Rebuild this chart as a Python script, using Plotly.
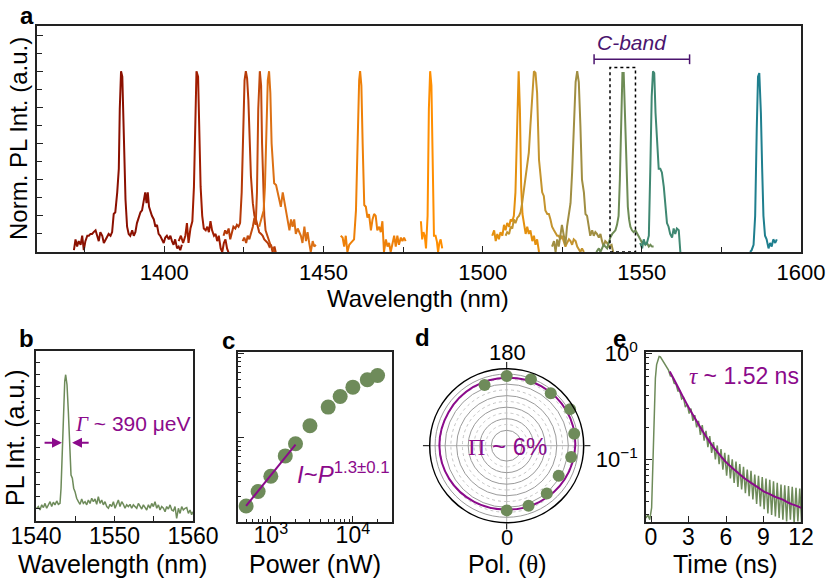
import plotly.graph_objects as go
import numpy as np

W, H = 833, 586
def px(x): return x / W
def py(y): return 1 - y / H

FONT = "Liberation Sans, Arial, Helvetica, sans-serif"
SERIF = "Liberation Serif, Times New Roman, serif"
GREEN = "#6E8B5A"
PURPLE = "#8B0A8B"
CBAND_COLOR = "#4B146E"
AXC = "#222222"

# ---------------- Panel a: normalized PL spectra (wavelength nm, normalized intensity)
S1 = [(1371.6,0.01),(1372.1,0.07),(1372.6,0.03),(1373.1,0.06),(1373.7,0.04),(1374.2,0.09),(1374.7,0.01),(1375.2,0.06),(1375.8,0.09),(1376.3,0.09),(1376.8,0.10),(1377.3,0.10),(1377.8,0.11),(1378.4,0.12),(1378.9,0.09),(1379.4,0.06),(1379.9,0.11),(1380.5,0.09),(1381.0,0.05),(1381.5,0.07),(1382.0,0.09),(1382.5,0.10),(1383.1,0.09),(1383.6,0.11),(1384.1,0.21),(1384.6,0.22),(1385.2,0.33),(1385.7,0.46),(1386.0,0.79),(1386.4,1.00),(1386.8,0.97),(1387.3,0.64),(1387.8,0.29),(1388.3,0.14),(1388.8,0.10),(1389.3,0.09),(1389.9,0.12),(1390.4,0.09),(1390.9,0.11),(1391.4,0.16),(1392.0,0.19),(1392.5,0.22),(1393.0,0.23),(1393.5,0.28),(1394.0,0.33),(1394.4,0.27),(1394.8,0.33),(1395.2,0.25),(1395.6,0.22),(1396.1,0.20),(1396.7,0.18),(1397.2,0.14),(1397.7,0.15),(1398.2,0.10),(1398.7,0.09),(1399.3,0.07),(1399.8,0.05),(1400.3,0.08),(1400.8,0.09),(1401.4,0.07),(1401.9,0.09),(1402.4,0.06),(1402.9,0.04),(1403.4,0.07),(1404.0,0.02),(1404.5,0.03),(1405.0,0.01),(1405.5,0.04)]
S2 = [(1404.5,0.06),(1405.2,0.09),(1405.9,0.05),(1406.6,0.09),(1407.1,0.16),(1407.6,0.05),(1408.2,0.13),(1408.8,0.17),(1409.3,0.36),(1409.7,0.73),(1410.1,1.00),(1410.6,0.97),(1411.0,0.70),(1411.4,0.36),(1411.9,0.20),(1412.4,0.13),(1413.0,0.12),(1413.5,0.14),(1414.0,0.11),(1414.5,0.17),(1415.0,0.12),(1415.6,0.09),(1416.1,0.10),(1416.6,0.06),(1417.1,0.09),(1417.7,0.02),(1418.2,0.00),(1418.7,0.05),(1419.2,0.07),(1419.7,0.02),(1420.3,-0.01)]
S3 = [(1418.6,0.09),(1419.1,0.12),(1419.6,0.10),(1420.2,0.13),(1420.7,0.07),(1421.2,0.10),(1421.7,0.14),(1422.3,0.13),(1422.8,0.15),(1423.3,0.14),(1423.8,0.16),(1424.3,0.33),(1424.8,0.70),(1425.2,0.95),(1425.6,1.00),(1426.0,0.96),(1426.4,0.84),(1427.2,0.42),(1427.8,0.27),(1428.3,0.20),(1428.8,0.18),(1429.3,0.14),(1429.8,0.11),(1430.4,0.10),(1430.9,0.09),(1431.4,0.07),(1431.9,0.06),(1432.5,0.05),(1433.0,0.03),(1433.5,0.04),(1434.0,0.00),(1434.6,0.03),(1435.1,-0.01)]
S4 = [(1424.6,0.06),(1425.1,0.08),(1425.7,0.05),(1426.2,0.09),(1426.7,0.07),(1427.2,0.10),(1427.8,0.14),(1428.3,0.19),(1428.7,0.15),(1429.1,0.33),(1429.5,0.79),(1430.0,1.00),(1430.4,0.92),(1430.7,0.60),(1431.0,0.36),(1431.4,0.20),(1431.8,0.12),(1432.3,0.09),(1432.7,0.07),(1433.1,0.05),(1433.5,0.03),(1434.0,0.02),(1434.6,0.00),(1435.1,-0.01)]
S5 = [(1429.8,0.14),(1430.6,0.20),(1431.2,0.23),(1431.6,0.36),(1432.0,0.70),(1432.5,0.95),(1432.9,1.00),(1433.3,0.88),(1433.7,0.60),(1434.1,0.46),(1434.5,0.38),(1435.1,0.37),(1435.6,0.33),(1436.1,0.30),(1436.6,0.25),(1437.2,0.33),(1437.7,0.28),(1438.2,0.23),(1438.7,0.20),(1439.3,0.12),(1439.8,0.18),(1440.3,0.14),(1440.8,0.18),(1441.3,0.10),(1441.9,0.13),(1442.4,0.11),(1442.9,0.09),(1443.4,0.05),(1444.0,0.14),(1444.5,0.06),(1445.0,0.11),(1445.5,0.05),(1446.0,0.00),(1446.6,0.06),(1447.1,0.03),(1447.6,0.04)]
S6 = [(1455.4,0.09),(1456.0,0.08),(1456.5,0.03),(1457.0,0.09),(1457.5,0.00),(1458.1,0.04),(1458.6,0.05),(1459.1,0.06),(1459.6,0.07),(1460.2,0.23),(1460.7,0.60),(1461.2,0.95),(1461.5,1.00),(1461.9,0.92),(1462.3,0.60),(1462.8,0.26),(1463.3,0.25),(1463.8,0.19),(1464.3,0.21),(1464.9,0.12),(1465.4,0.18),(1465.9,0.21),(1466.4,0.20),(1466.9,0.12),(1467.5,0.14),(1468.0,0.11),(1468.5,0.17),(1469.0,0.00),(1469.6,0.07),(1470.1,0.03),(1470.6,0.05),(1471.1,0.00),(1471.6,0.04),(1472.2,0.09),(1472.7,0.03),(1473.2,0.09),(1473.7,0.04),(1474.3,0.08),(1474.8,0.06),(1475.3,0.08),(1475.8,0.06)]
S7 = [(1480.6,0.17),(1481.0,0.07),(1481.4,0.11),(1481.8,0.09),(1482.2,0.02),(1482.7,0.20),(1483.1,0.79),(1483.5,1.00),(1483.9,0.92),(1484.3,0.51),(1484.7,0.09),(1485.2,0.09),(1485.6,0.06),(1486.0,0.00),(1486.4,0.05),(1486.8,0.07),(1487.3,0.02)]
S8 = [(1503.0,0.09),(1503.6,0.12),(1504.1,0.06),(1504.6,0.10),(1505.1,0.07),(1505.6,0.11),(1506.2,0.09),(1506.7,0.15),(1507.2,0.12),(1507.7,0.16),(1508.3,0.14),(1508.8,0.18),(1509.3,0.17),(1509.8,0.20),(1510.3,0.33),(1510.8,0.70),(1511.3,1.00),(1511.7,0.79),(1512.1,0.36),(1512.5,0.21),(1513.0,0.16),(1513.5,0.10),(1514.0,0.14),(1514.5,0.10),(1515.0,0.12),(1515.6,0.06),(1516.1,0.09),(1516.6,0.04),(1517.1,0.07),(1517.7,0.00)]
S9 = [(1507.2,0.09),(1507.7,0.11),(1508.3,0.10),(1508.8,0.14),(1509.3,0.13),(1509.8,0.18),(1510.3,0.16),(1510.9,0.19),(1511.4,0.20),(1511.9,0.22),(1512.4,0.27),(1512.9,0.33),(1513.5,0.42),(1514.0,0.47),(1514.5,0.55),(1515.0,0.70),(1515.6,0.88),(1516.1,1.00),(1516.6,0.99),(1517.1,0.88),(1517.7,0.51),(1518.2,0.42),(1518.7,0.33),(1519.2,0.31),(1519.7,0.23),(1520.3,0.21),(1520.8,0.21),(1521.3,0.18),(1521.8,0.14),(1522.4,0.12),(1522.9,0.10),(1523.4,0.09),(1523.9,0.09),(1524.4,0.07),(1524.9,0.09),(1525.5,0.06),(1526.0,0.03),(1526.5,0.05),(1527.1,0.07),(1527.6,0.06),(1528.1,0.04),(1528.6,0.07),(1529.2,0.06),(1529.7,0.03),(1530.2,0.01),(1530.7,0.00),(1531.2,0.02),(1531.8,0.00)]
S10 = [(1521.8,0.03),(1522.4,0.06),(1522.9,0.00),(1523.4,0.07),(1523.9,0.03),(1524.4,0.10),(1524.9,0.15),(1525.5,0.09),(1526.0,0.04),(1526.5,0.14),(1527.1,0.20),(1527.6,0.27),(1528.1,0.44),(1528.6,0.70),(1529.2,0.94),(1529.7,1.00),(1530.2,0.94),(1530.7,0.70),(1531.2,0.40),(1531.8,0.33),(1532.3,0.21),(1532.8,0.20),(1533.3,0.14),(1533.8,0.09),(1534.4,0.12),(1534.9,0.09),(1535.4,0.11),(1535.9,0.10),(1536.5,0.08),(1537.0,0.10),(1537.5,0.06),(1538.0,0.03),(1538.5,0.06),(1539.1,0.05),(1539.6,0.03),(1540.5,0.04),(1541.0,0.00)]
S11 = [(1535.7,0.00),(1536.5,0.02),(1537.0,0.00),(1538.0,0.04),(1539.1,0.02),(1540.1,0.08),(1540.7,0.10),(1541.2,0.11),(1541.7,0.12),(1542.2,0.15),(1542.7,0.20),(1543.1,0.40),(1543.5,0.77),(1543.9,0.99),(1544.3,0.99),(1544.7,0.77),(1545.2,0.40),(1545.6,0.25),(1546.0,0.18),(1546.4,0.14),(1546.9,0.12),(1547.4,0.11),(1548.0,0.12),(1548.5,0.10),(1549.0,0.09),(1549.5,0.07),(1550.1,0.05),(1550.6,0.06),(1551.1,0.04),(1551.6,0.05),(1552.2,0.03),(1552.7,0.04),(1553.2,0.03),(1553.7,0.03)]
S12 = [(1549.5,0.05),(1550.1,0.02),(1550.6,0.07),(1551.1,0.04),(1551.6,0.05),(1552.2,0.09),(1552.7,0.49),(1553.1,0.86),(1553.5,1.00),(1553.9,0.99),(1554.3,0.77),(1554.8,0.58),(1555.3,0.46),(1555.8,0.46),(1556.3,0.44),(1556.9,0.36),(1557.4,0.27),(1557.9,0.16),(1558.4,0.14),(1558.9,0.10),(1559.5,0.08),(1560.0,0.13),(1560.5,0.10),(1561.0,0.13),(1561.6,0.12),(1562.1,0.00)]
S13 = [(1584.0,0.00),(1584.5,0.01),(1585.1,0.04),(1585.6,0.20),(1586.1,0.68),(1586.5,0.97),(1586.9,0.99),(1587.4,0.77),(1587.8,0.46),(1588.2,0.20),(1588.7,0.09),(1589.2,0.07),(1589.8,0.02),(1590.3,0.05),(1590.8,0.03),(1591.3,0.07),(1591.9,0.05),(1592.4,0.07)]
SPEC_COLORS = ["#8B1000", "#A01C00", "#B63A08", "#C24A0C", "#DC7014", "#EE8008", "#FF8E00",
               "#E4900E", "#C4942E", "#A08E42", "#6E8C55", "#3F8872", "#1F7F8E"]
CBAND = (1535, 1565)
CBAND_Y = 1.066
BOX_X = (1540, 1548)
BOX_TOP = 1.02

# ---------------- Panel b: single PL spectrum
B_SPEC = [(1540.09,0.52),(1540.30,0.59),(1540.51,0.45),(1540.73,0.66),(1540.94,0.55),(1541.15,0.72),(1541.36,0.52),(1541.58,0.68),(1541.79,0.79),(1542.00,0.59),(1542.21,0.77),(1542.42,0.66),(1542.64,0.82),(1542.85,0.68),(1543.06,0.72),(1543.19,1.34),(1543.36,3.11),(1543.49,4.48),(1543.66,5.71),(1543.78,5.98),(1543.95,5.57),(1544.12,4.48),(1544.29,3.11),(1544.46,1.88),(1544.63,1.75),(1544.80,1.34),(1544.97,1.20),(1545.18,0.93),(1545.40,0.79),(1545.61,0.68),(1545.82,0.90),(1546.03,0.72),(1546.25,0.79),(1546.46,0.66),(1546.67,0.86),(1546.88,0.72),(1547.10,0.93),(1547.31,0.79),(1547.52,0.90),(1547.73,0.68),(1547.94,0.99),(1548.16,0.72),(1548.37,0.86),(1548.58,0.66),(1548.79,0.79),(1549.01,0.59),(1549.22,0.52),(1549.43,0.68),(1549.64,0.59),(1549.86,0.79),(1550.07,0.52),(1550.28,0.66),(1550.49,0.86),(1550.70,0.59),(1550.92,0.79),(1551.13,0.68),(1551.34,0.52),(1551.55,0.66),(1551.77,0.59),(1551.98,0.68),(1552.19,0.52),(1552.40,0.66),(1552.62,0.59),(1552.83,0.52),(1553.04,0.72),(1553.25,0.59),(1553.47,0.49),(1553.68,0.66),(1553.89,0.55),(1554.10,0.45),(1554.32,0.66),(1554.53,0.52),(1554.74,0.72),(1554.95,0.59),(1555.16,0.79),(1555.38,0.52),(1555.59,0.66),(1555.80,0.45),(1556.01,0.59),(1556.23,0.52),(1556.44,0.38),(1556.65,0.59),(1556.86,0.49),(1557.08,0.66),(1557.29,0.45),(1557.50,0.41),(1557.71,0.59),(1557.92,0.11),(1558.14,0.52),(1558.35,0.31),(1558.56,0.59),(1558.77,0.45),(1558.99,0.52),(1559.20,0.55),(1559.41,0.31),(1559.62,0.45),(1559.83,0.25),(1559.96,0.38)]
FWHM_LEFT = (1540.9, 1543.3)
FWHM_RIGHT = (1546.9, 1544.6)
FWHM_Y = 3.2

# ---------------- Panel c: power dependence
POWER = [500, 700, 1000, 1500, 2000, 3000, 5000, 7000, 10000, 15000, 20000]
PL_POWER = [1.55, 2.3, 3.5, 6.1, 8.5, 13.9, 23.2, 31, 40, 49, 55]
FIT_POWER = [500, 2000]
FIT_PL = [1.55, 8.3]

# ---------------- Panel d: polarization
POL_ANGLE = [0, 20, 40, 60, 80, 100, 120, 140, 160, 180, 200]
POL_INT = [0.84, 0.83, 0.81, 0.78, 0.85, 0.89, 0.95, 0.89, 0.92, 0.905, 0.84]
POL_FIT_ANGLE = [0, 30, 60, 90, 120, 150, 180, 210, 240, 270, 300, 330, 360]
POL_FIT_R = [0.83, 0.845, 0.87, 0.89, 0.90, 0.895, 0.883, 0.877, 0.872, 0.874, 0.862, 0.843, 0.83]
POL_GRID_SOLID = [0.2, 0.35, 0.5, 0.65, 0.8, 0.93]
POL_GRID_DOT = [0.275, 0.425, 0.575, 0.725, 0.865]
POL_TICK_LABELS = [("180", 352), ("0", 537)]

# ---------------- Panel e: time-resolved PL
E_DATA = [(-0.40,0.028),(-0.25,0.030),(-0.10,0.027),(0.05,0.035),(0.15,0.09),(0.25,0.30),(0.35,0.58),(0.45,0.78),(0.55,0.88),(0.65,0.93),(0.75,0.92),(0.85,0.88),(0.95,0.84),
          (1.10,0.79),(1.25,0.72),(1.40,0.69),(1.55,0.61),(1.70,0.60),(1.85,0.52),(2.00,0.51),(2.15,0.44),(2.30,0.44),(2.45,0.37),(2.60,0.38),(2.75,0.31),(2.90,0.33),(3.05,0.27),(3.20,0.30),(3.35,0.23),(3.50,0.26),(3.65,0.20),(3.80,0.23),(3.95,0.17),(4.10,0.21),(4.25,0.15),(4.40,0.185),(4.55,0.13),(4.70,0.165),(4.85,0.115),(5.00,0.145),(5.15,0.10),(5.30,0.135),(5.45,0.09),(5.60,0.125),(5.75,0.08),(5.90,0.115),(6.05,0.07),(6.20,0.11),(6.35,0.066),(6.50,0.10),(6.65,0.06),(6.80,0.095),(6.95,0.055),(7.10,0.09),(7.25,0.052),(7.40,0.085),(7.55,0.048),(7.70,0.08),(7.85,0.045),(8.00,0.078),(8.15,0.042),(8.30,0.072),(8.45,0.038),(8.60,0.07),(8.75,0.036),(8.90,0.068),(9.05,0.034),(9.20,0.066),(9.35,0.031),(9.50,0.064),(9.65,0.030),(9.80,0.062),(9.95,0.029),(10.10,0.060),(10.25,0.028),(10.40,0.058),(10.55,0.027),(10.70,0.057),(10.85,0.026),(11.00,0.056),(11.15,0.027),(11.30,0.055),(11.45,0.025),(11.60,0.054),(11.75,0.026),(11.90,0.053),(12.05,0.025)]
E_FIT = [(1.5,0.67),(2.0,0.52),(2.5,0.40),(3.0,0.31),(3.5,0.245),(4.0,0.195),(4.5,0.158),(5.0,0.130),(5.5,0.110),(6.0,0.094),(6.5,0.083),(7.0,0.074),(7.5,0.066),(8.0,0.060),(8.5,0.055),(9.0,0.050),(9.5,0.047),(10.0,0.044),(10.5,0.042),(11.0,0.039),(11.5,0.037),(12.0,0.035)]

fig = go.Figure()

# Panel a traces
for s, c in zip([S1, S2, S3, S4, S5, S6, S7, S8, S9, S10, S11, S12, S13], SPEC_COLORS):
    x, y = zip(*s)
    fig.add_trace(go.Scatter(x=x, y=y, mode="lines", line=dict(color=c, width=2),
                             xaxis="x", yaxis="y", showlegend=False, hoverinfo="skip"))
fig.add_trace(go.Scatter(x=list(CBAND), y=[CBAND_Y, CBAND_Y], mode="lines+markers",
                         line=dict(color=CBAND_COLOR, width=1.5),
                         marker=dict(symbol="line-ns", size=7, line=dict(color=CBAND_COLOR, width=1.5)),
                         xaxis="x", yaxis="y", showlegend=False, hoverinfo="skip"))

# Panel b
bx, by = zip(*B_SPEC)
fig.add_trace(go.Scatter(x=bx, y=by, mode="lines", line=dict(color=GREEN, width=1.5),
                         xaxis="x2", yaxis="y2", showlegend=False))

# Panel c
fig.add_trace(go.Scatter(x=POWER, y=PL_POWER, mode="markers", marker=dict(color=GREEN, size=15),
                         xaxis="x3", yaxis="y3", showlegend=False))
fig.add_trace(go.Scatter(x=FIT_POWER, y=FIT_PL, mode="lines", line=dict(color=PURPLE, width=2),
                         xaxis="x3", yaxis="y3", showlegend=False))

# Panel d
circ = np.linspace(0, 360, 181)
for r in POL_GRID_DOT:
    fig.add_trace(go.Scatterpolar(r=[r] * len(circ), theta=circ, mode="lines",
                                  line=dict(color="#c4c4c4", width=1, dash="dot"),
                                  subplot="polar", showlegend=False, hoverinfo="skip"))
fig.add_trace(go.Scatterpolar(r=POL_FIT_R, theta=POL_FIT_ANGLE, mode="lines",
                              line=dict(color=PURPLE, width=2, shape="spline"),
                              subplot="polar", showlegend=False))
fig.add_trace(go.Scatterpolar(r=POL_INT, theta=POL_ANGLE, mode="markers",
                              marker=dict(color=GREEN, size=12),
                              subplot="polar", showlegend=False))

# Panel e
ex, ey = zip(*E_DATA)
fig.add_trace(go.Scatter(x=ex, y=ey, mode="lines", line=dict(color=GREEN, width=1.5),
                         xaxis="x4", yaxis="y4", showlegend=False))
fx, fy = zip(*E_FIT)
fig.add_trace(go.Scatter(x=fx, y=fy, mode="lines", line=dict(color=PURPLE, width=2, shape="spline"),
                         xaxis="x4", yaxis="y4", showlegend=False))

common = dict(showgrid=False, zeroline=False, showline=True, linecolor=AXC, linewidth=1.5,
              mirror=True, ticks="inside", tickcolor=AXC, tickwidth=1.2, automargin=False)

def logminor(lo, hi):
    return [m * 10 ** e for e in range(lo, hi) for m in range(2, 10)]

BOT_TICK = dict(size=23)
fig.update_layout(
    width=W, height=H, margin=dict(l=0, r=0, t=0, b=0, pad=0, autoexpand=False),
    paper_bgcolor="white", plot_bgcolor="white",
    font=dict(family=FONT, color="black"),
    xaxis=dict(domain=[px(37), px(801)], anchor="y", range=[1360, 1600], tick0=1400, dtick=50,
               ticklen=6, tickfont=dict(size=22), ticklabelstandoff=0,
               minor=dict(dtick=25, ticks="inside", ticklen=5, tickcolor=AXC), **common),
    yaxis=dict(domain=[py(252), py(26)], anchor="x", range=[0, 1.25], tick0=0, dtick=0.2,
               ticklen=6, showticklabels=False,
               minor=dict(dtick=0.1, ticks="inside", ticklen=5, tickcolor=AXC), **common),
    xaxis2=dict(domain=[px(36), px(193)], anchor="y2", range=[1540, 1560], dtick=10,
                ticklen=5, tickfont=BOT_TICK, ticklabelstandoff=-6,
                minor=dict(dtick=5, ticks="inside", ticklen=5, tickcolor=AXC), **common),
    yaxis2=dict(domain=[py(521), py(351)], anchor="x2", range=[0, 6.95], dtick=0.5,
                ticklen=4, showticklabels=False, **common),
    xaxis3=dict(domain=[px(238), px(392)], anchor="y3", type="log", range=[2.6, 4.477],
                tickvals=[1000, 10000], ticktext=["10<sup>3</sup>", "10<sup>4</sup>"],
                ticklen=6, tickfont=BOT_TICK, ticklabelstandoff=-8,
                minor=dict(tickvals=logminor(2, 5), ticks="inside", ticklen=3, tickcolor=AXC), **common),
    yaxis3=dict(domain=[py(522), py(352)], anchor="x3", type="log", range=[0, 2.02],
                tickvals=[1, 10, 100], ticklen=6, showticklabels=False,
                minor=dict(tickvals=logminor(0, 2), ticks="inside", ticklen=3, tickcolor=AXC), **common),
    xaxis4=dict(domain=[px(646), px(801)], anchor="y4", range=[-0.4, 12], tickvals=[0, 3, 6, 9, 12],
                ticklen=6, tickfont=BOT_TICK, ticklabelstandoff=-6, **common),
    yaxis4=dict(domain=[py(522), py(352)], anchor="x4", type="log", range=[-1.59, 0.01],
                tickvals=[0.1, 1], ticktext=["10<sup>\u22121</sup>", "10<sup>0</sup>"],
                ticklabelposition="outside",
                ticklen=6, tickfont=dict(size=22), ticklabelstandoff=2,
                minor=dict(tickvals=logminor(-2, 0), ticks="inside", ticklen=3, tickcolor=AXC), **common),
    polar=dict(
        domain=dict(x=[px(429.7), px(583.7)], y=[py(522.7), py(368.7)]),
        bgcolor="white",
        radialaxis=dict(range=[0, 1], showticklabels=False, ticks="", showline=False,
                        tickvals=POL_GRID_SOLID, gridcolor="#9a9a9a", gridwidth=1),
        angularaxis=dict(rotation=-90, direction="counterclockwise", tickmode="array",
                         tickvals=[0, 90, 180, 270], showticklabels=False,
                         ticks="outside", ticklen=6, tickcolor="black", showline=True,
                         linecolor="black", linewidth=1.5, gridcolor="#b0b0b0"),
    ),
    shapes=[dict(type="rect", xref="x", yref="y", x0=BOX_X[0], x1=BOX_X[1], y0=0, y1=BOX_TOP,
                 line=dict(color="black", width=1.5, dash="dot"))],
)

ann = []
def lab(text, x, y, size=22, bold=False, angle=0, color="black", family=FONT):
    ann.append(dict(text=f"<b>{text}</b>" if bold else text, x=px(x), y=py(y), xref="paper", yref="paper",
                    showarrow=False, font=dict(size=size, color=color, family=family),
                    textangle=angle, xanchor="center", yanchor="middle"))

for t, x, y in [("a", 27, 15), ("b", 26, 338), ("c", 228, 340), ("d", 422, 337), ("e", 619, 338)]:
    lab(t, x, y, size=24, bold=True)
lab("Wavelength (nm)", 418, 298, size=24)
lab("Norm. PL Int. (a.u.)", 18, 139, size=24, angle=-90)
lab("Wavelength (nm)", 112, 564, size=25)
lab("PL Int. (a.u.)", 15, 438, size=25, angle=-90)
lab("Power (nW)", 315, 564, size=25)
lab("Pol. (<span style='font-family:Liberation Serif'>\u03b8</span>)", 507, 564, size=25)
lab("Time (ns)", 725, 564, size=25)
for t, y in POL_TICK_LABELS:
    lab(t, 507, y, size=22)
lab("<span style='font-family:Liberation Serif'>\u03a0</span> ~ 6%", 507, 446, size=24, color=PURPLE)

ann.append(dict(text="<i>C-band</i>", x=1547, y=1.16, xref="x", yref="y", showarrow=False,
                font=dict(size=21, color=CBAND_COLOR, family=FONT), xanchor="center", yanchor="middle"))
ann.append(dict(text="<i style='font-family:Liberation Serif'>\u0393</i> ~ 390 \u03bceV", x=1544.7, y=3.95,
                xref="x2", yref="y2", showarrow=False, font=dict(size=21, color=PURPLE, family=FONT),
                xanchor="left", yanchor="middle"))
for tail, head in [FWHM_LEFT, FWHM_RIGHT]:
    ann.append(dict(text="", x=head, y=FWHM_Y, ax=tail, ay=FWHM_Y, xref="x2", yref="y2",
                    axref="x2", ayref="y2", showarrow=True, arrowhead=2, arrowsize=1.1,
                    arrowwidth=1.8, arrowcolor=PURPLE))
ann.append(dict(text="<i>I</i>~<i>P</i><sup>1.3\u00b10.1</sup>", x=np.log10(1950), y=np.log10(3.8),
                xref="x3", yref="y3", showarrow=False, font=dict(size=24, color=PURPLE, family=FONT),
                xanchor="left", yanchor="middle"))
ann.append(dict(text="<span style='font-family:Liberation Serif'><i>\u03c4</i></span> ~ 1.52 ns",
                x=2.9, y=-0.215, xref="x4", yref="y4", showarrow=False,
                font=dict(size=23, color=PURPLE, family=FONT), xanchor="left", yanchor="middle"))
fig.update_layout(annotations=ann)

fig.write_html("out.html")
